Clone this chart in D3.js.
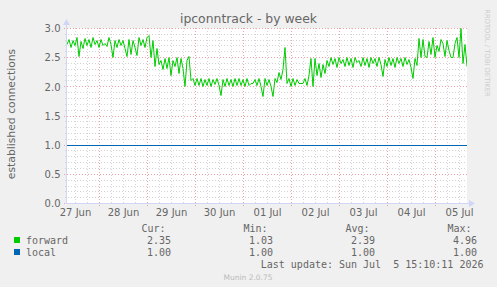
<!DOCTYPE html>
<html>
<head>
<meta charset="utf-8">
<script src="https://cdn.jsdelivr.net/npm/d3@7"></script>
<style>
    body { margin: 0; background: #f0f0f0; }
    svg { display: block; }
    text { fill: #666666; }
</style>
</head>
<body>
<div id="chart"></div>
<script>
(function() {
    // data, one value per hour starting 27 Jun 08:00
    var startTime = Date.UTC(2026, 5, 27, 8);
    var endTime = Date.UTC(2026, 6, 5, 16);

    var forwardValues = [
        2.72, 2.82, 2.68, 2.80, 2.70, 2.84, 2.52, 2.78, 2.66, 2.83,
        2.70, 2.81, 2.67, 2.85, 2.72, 2.80, 2.68, 2.82, 2.70, 2.75,
        2.69, 2.84, 2.72, 2.50, 2.80, 2.67, 2.82, 2.70, 2.80, 2.66,
        2.52, 2.82, 2.55, 2.80, 2.68, 2.54, 2.84, 2.70, 2.82, 2.68,
        2.84, 2.88, 2.50, 2.80, 2.35, 2.66, 2.38, 2.45, 2.30, 2.48,
        2.32, 2.50, 2.20, 2.46, 2.35, 2.50, 2.22, 2.48, 2.32, 2.00,
        2.45, 2.52, 2.10, 2.15, 2.02, 2.14, 2.02, 2.15, 2.01, 2.13,
        2.03, 2.15, 2.00, 2.12, 2.04, 2.14, 2.02, 1.85, 2.12, 2.01,
        2.15, 2.03, 2.13, 2.00, 2.14, 2.02, 2.15, 2.03, 2.12, 2.01,
        2.14, 2.03, 2.05, 2.05, 2.13, 2.02, 2.15, 2.01, 1.84, 2.14,
        2.02, 2.13, 2.00, 1.83, 2.15, 2.08, 2.25, 2.12, 2.30, 2.67,
        2.05, 2.14, 2.01, 2.15, 2.02, 2.12, 2.05, 2.05, 2.06, 2.15,
        2.02, 2.20, 2.49, 2.00, 2.48, 2.20, 2.40, 2.16, 2.38, 2.22,
        2.45, 2.35, 2.50, 2.38, 2.48, 2.34, 2.51, 2.40, 2.47, 2.35,
        2.50, 2.36, 2.48, 2.34, 2.50, 2.42, 2.46, 2.35, 2.51, 2.37,
        2.49, 2.34, 2.50, 2.40, 2.48, 2.35, 2.50, 2.38, 2.18, 2.47,
        2.35, 2.50, 2.37, 2.49, 2.34, 2.50, 2.40, 2.48, 2.35, 2.50,
        2.38, 2.47, 2.34, 2.14, 2.49, 2.36, 2.83, 2.50, 2.82, 2.52,
        2.50, 2.78, 2.55, 2.84, 2.50, 2.70, 2.60, 2.82, 2.75, 2.52,
        2.80, 2.62, 2.50, 2.50, 2.75, 2.84, 2.50, 3.00, 2.40, 2.72,
        2.35
    ];

    var localValues = [
        1.00, 1.00, 1.00, 1.00, 1.00, 1.00, 1.00, 1.00, 1.00, 1.00,
        1.00, 1.00, 1.00, 1.00, 1.00, 1.00, 1.00, 1.00, 1.00, 1.00,
        1.00, 1.00, 1.00, 1.00, 1.00, 1.00, 1.00, 1.00, 1.00, 1.00,
        1.00, 1.00, 1.00, 1.00, 1.00, 1.00, 1.00, 1.00, 1.00, 1.00,
        1.00, 1.00, 1.00, 1.00, 1.00, 1.00, 1.00, 1.00, 1.00, 1.00,
        1.00, 1.00, 1.00, 1.00, 1.00, 1.00, 1.00, 1.00, 1.00, 1.00,
        1.00, 1.00, 1.00, 1.00, 1.00, 1.00, 1.00, 1.00, 1.00, 1.00,
        1.00, 1.00, 1.00, 1.00, 1.00, 1.00, 1.00, 1.00, 1.00, 1.00,
        1.00, 1.00, 1.00, 1.00, 1.00, 1.00, 1.00, 1.00, 1.00, 1.00,
        1.00, 1.00, 1.00, 1.00, 1.00, 1.00, 1.00, 1.00, 1.00, 1.00,
        1.00, 1.00, 1.00, 1.00, 1.00, 1.00, 1.00, 1.00, 1.00, 1.00,
        1.00, 1.00, 1.00, 1.00, 1.00, 1.00, 1.00, 1.00, 1.00, 1.00,
        1.00, 1.00, 1.00, 1.00, 1.00, 1.00, 1.00, 1.00, 1.00, 1.00,
        1.00, 1.00, 1.00, 1.00, 1.00, 1.00, 1.00, 1.00, 1.00, 1.00,
        1.00, 1.00, 1.00, 1.00, 1.00, 1.00, 1.00, 1.00, 1.00, 1.00,
        1.00, 1.00, 1.00, 1.00, 1.00, 1.00, 1.00, 1.00, 1.00, 1.00,
        1.00, 1.00, 1.00, 1.00, 1.00, 1.00, 1.00, 1.00, 1.00, 1.00,
        1.00, 1.00, 1.00, 1.00, 1.00, 1.00, 1.00, 1.00, 1.00, 1.00,
        1.00, 1.00, 1.00, 1.00, 1.00, 1.00, 1.00, 1.00, 1.00, 1.00,
        1.00, 1.00, 1.00, 1.00, 1.00, 1.00, 1.00, 1.00, 1.00, 1.00,
        1.00
    ];

    var seriesNames = ["forward", "local"];
    var seriesColors = ["#00cc00", "#0066b3"];
    var yTicks = [0.0, 0.5, 1.0, 1.5, 2.0, 2.5, 3.0];
    var statHeaders = ["Cur:", "Min:", "Avg:", "Max:"];
    var forwardStats = ["2.35", "1.03", "2.39", "4.96"];
    var localStats = ["1.00", "1.00", "1.00", "1.00"];

    var margin = {top: 28, left: 67};
    var width = 400, height = 175;

    var svg = d3.select("#chart")
        .append("svg")
        .attr("width", 497)
        .attr("height", 287);

    svg.append("rect")
        .attr("width", 497).attr("height", 287)
        .attr("fill", "#f0f0f0");

    var g = svg.append("g")
        .attr("transform", "translate(" + margin.left + "," + margin.top + ")");

    g.append("rect")
        .attr("width", width).attr("height", height)
        .attr("fill", "#ffffff");

    var x = d3.scaleUtc().domain([startTime, endTime]).range([0, width]);
    var y = d3.scaleLinear().domain([0, 3]).range([height, 0]);

    // grid: minor every 6h / 0.1, major every day / 0.5
    var minorX = d3.utcHour.every(6).range(new Date(startTime), new Date(endTime))
        .filter(d => d.getUTCHours() != 0);
    var majorX = d3.utcDay.range(new Date(startTime), new Date(endTime));
    var minorY = d3.range(1, 30).map(d => d / 10).filter(d => Math.round(d * 10) % 5 != 0);
    var majorY = yTicks;

    var gridMinor = "#d4d4d4", gridMajor = "#f0a0a0";

    g.selectAll(".minor-x").data(minorX).enter().append("line")
        .attr("x1", d => Math.round(x(d)) + 0.5).attr("x2", d => Math.round(x(d)) + 0.5)
        .attr("y1", 0).attr("y2", height)
        .attr("stroke", gridMinor).attr("stroke-dasharray", "1,2");
    g.selectAll(".minor-y").data(minorY).enter().append("line")
        .attr("x1", -2).attr("x2", width)
        .attr("y1", d => Math.round(y(d)) + 0.5).attr("y2", d => Math.round(y(d)) + 0.5)
        .attr("stroke", gridMinor).attr("stroke-dasharray", "1,2");
    g.selectAll(".major-x").data(majorX).enter().append("line")
        .attr("x1", d => Math.round(x(d)) + 0.5).attr("x2", d => Math.round(x(d)) + 0.5)
        .attr("y1", 0).attr("y2", height + 3)
        .attr("stroke", gridMajor).attr("stroke-dasharray", "1,2");
    g.selectAll(".major-y").data(majorY).enter().append("line")
        .attr("x1", -3).attr("x2", width + 1)
        .attr("y1", d => Math.round(y(d)) + 0.5).attr("y2", d => Math.round(y(d)) + 0.5)
        .attr("stroke", gridMajor).attr("stroke-dasharray", "1,2");

    g.append("clipPath").attr("id", "plotclip")
        .append("rect").attr("width", width).attr("height", height + 1);

    var line = d3.line()
        .x((d, i) => x(startTime + i * 3600000))
        .y(d => Math.round(y(d)) + 0.5);

    [forwardValues, localValues].forEach(function(vals, k) {
        g.append("path")
            .datum(vals)
            .attr("clip-path", "url(#plotclip)")
            .attr("fill", "none")
            .attr("stroke", seriesColors[k])
            .attr("stroke-width", 1)
            .attr("d", line);
    });

    // axes in munin colours, with arrows
    var axisColor = "#cfd6f8";
    g.append("line").attr("x1", -0.5).attr("x2", -0.5).attr("y1", height + 1).attr("y2", -4)
        .attr("stroke", axisColor);
    g.append("path").attr("d", "M-4,-3 L-0.5,-9 L3,-3 Z").attr("fill", axisColor);
    g.append("line").attr("x1", -1).attr("x2", width + 3).attr("y1", height + 0.5).attr("y2", height + 0.5)
        .attr("stroke", axisColor);
    g.append("path").attr("d", "M" + (width + 2) + "," + (height - 3) + " L" + (width + 8) + "," + (height + 0.5) +
        " L" + (width + 2) + "," + (height + 4) + " Z").attr("fill", axisColor);

    // tick labels
    var yAxis = g.append("g")
        .call(d3.axisLeft(y).tickValues(yTicks).tickSize(0).tickPadding(6).tickFormat(d3.format(".1f")));
    yAxis.select(".domain").remove();
    yAxis.selectAll("text")
        .attr("x", -6.5).attr("dy", "0.38em")
        .style("font-family", "DejaVu Sans").style("font-size", "10px").style("fill", "#666666");

    var noonTicks = d3.utcDay.range(new Date(startTime), new Date(endTime))
        .map(d => d3.utcHour.offset(d, 12));
    noonTicks.unshift(d3.utcHour.offset(d3.utcDay.floor(new Date(startTime)), 12));
    var xAxis = g.append("g")
        .attr("transform", "translate(0," + height + ")")
        .call(d3.axisBottom(x).tickValues(noonTicks).tickSize(0).tickPadding(0).tickFormat(d3.utcFormat("%d %b")));
    xAxis.select(".domain").remove();
    xAxis.selectAll("text")
        .attr("y", 13).attr("dy", null)
        .style("font-family", "DejaVu Sans").style("font-size", "10px").style("fill", "#666666");

    // titles
    svg.append("text")
        .attr("x", 248.5).attr("y", 22.5)
        .attr("text-anchor", "middle")
        .style("font-family", "DejaVu Sans").style("font-size", "12.4px")
        .text("ipconntrack - by week");

    svg.append("text")
        .attr("transform", "translate(15,114) rotate(-90)")
        .attr("text-anchor", "middle")
        .style("font-family", "DejaVu Sans").style("font-size", "10.8px")
        .text("established connections");

    svg.append("text")
        .attr("transform", "translate(484.5,53) rotate(90)")
        .attr("text-anchor", "middle")
        .style("font-family", "DejaVu Sans").style("font-size", "6.8px").style("fill", "#cccccc")
        .text("RRDTOOL / TOBI OETIKER");

    // legend
    var mono = "DejaVu Sans Mono";
    var legend = svg.append("g").style("font-family", mono).style("font-size", "10px");

    legend.selectAll(".hdr").data(statHeaders).enter().append("text")
        .attr("x", (d, i) => 165.5 + i * 102).attr("y", 231.5)
        .attr("text-anchor", "end")
        .text(d => d);

    [forwardStats, localStats].forEach(function(stats, k) {
        var rowY = 243.5 + k * 12;
        legend.append("rect")
            .attr("x", 14).attr("y", rowY - 6.5).attr("width", 6).attr("height", 6)
            .attr("fill", seriesColors[k]);
        legend.append("text").attr("x", 26).attr("y", rowY).text(seriesNames[k]);
        legend.selectAll(".v" + k).data(stats).enter().append("text")
            .attr("x", (d, i) => 171 + i * 102).attr("y", rowY)
            .attr("text-anchor", "end")
            .text(d => d);
    });

    legend.append("text")
        .attr("x", 483.5).attr("y", 267.5)
        .attr("text-anchor", "end")
        .style("white-space", "pre")
        .text("Last update: Sun Jul  5 15:10:11 2026");

    svg.append("text")
        .attr("x", 248).attr("y", 279.5)
        .attr("text-anchor", "middle")
        .style("font-family", "DejaVu Sans").style("font-size", "7.5px").style("fill", "#bbbbbb")
        .text("Munin 2.0.75");
})();
</script>
</body>
</html>
